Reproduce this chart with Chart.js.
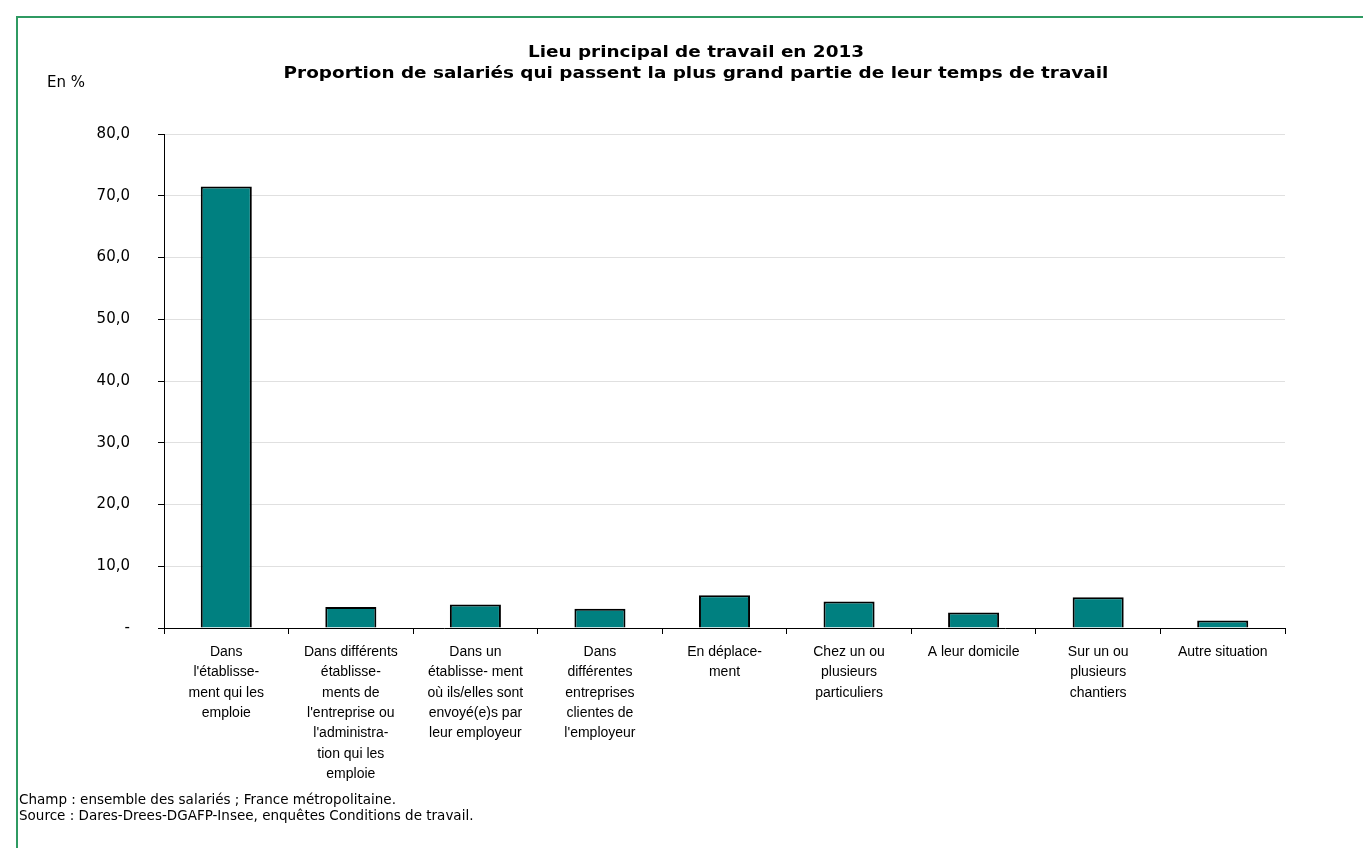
<!DOCTYPE html>
<html>
<head>
<meta charset="utf-8">
<script src="https://cdn.jsdelivr.net/npm/chart.js@4"></script>
<style>
  html, body { margin: 0; padding: 0; background: #fff; }
  #wrap { position: relative; width: 1363px; height: 848px; overflow: hidden; }
  #frame { position: absolute; left: 16px; top: 16px; right: -10px; bottom: -10px;
           border-top: 2px solid #2f9a62; border-left: 2px solid #2f9a62; }
  canvas { position: absolute; left: 0; top: 0; }
</style>
</head>
<body>
<div id="wrap">
  <div id="frame"></div>
  <canvas id="chart" width="1363" height="848"></canvas>
</div>
<script>
// ── Data ──
const categories = [
  ["Dans", "l'établisse-", "ment qui les", "emploie"],
  ["Dans différents", "établisse-", "ments de", "l'entreprise ou", "l'administra-", "tion qui les", "emploie"],
  ["Dans un", "établisse- ment", "où ils/elles sont", "envoyé(e)s par", "leur employeur"],
  ["Dans", "différentes", "entreprises", "clientes de", "l'employeur"],
  ["En déplace-", "ment"],
  ["Chez un ou", "plusieurs", "particuliers"],
  ["A leur domicile"],
  ["Sur un ou", "plusieurs", "chantiers"],
  ["Autre situation"],
];
const shares = [71.5, 3.4, 3.8, 3.1, 5.3, 4.3, 2.5, 5.0, 1.2];

const titleLines = [
  'Lieu principal de travail en 2013',
  'Proportion de salariés qui passent la plus grand partie de leur temps de travail',
];
const unitLabel = 'En %';
const notes = [
  'Champ : ensemble des salariés ; France métropolitaine.',
  'Source : Dares-Drees-DGAFP-Insee, enquêtes Conditions de travail.',
];

const FONT = "'DejaVu Sans', Verdana, sans-serif";
const LABEL_FONT = "'Liberation Sans', Tahoma, Arial, sans-serif";

// ── Texts around the plot (title, unit, notes) ──
const annotations = {
  id: 'annotations',
  afterDraw(chart) {
    const ctx = chart.ctx;
    ctx.save();
    ctx.fillStyle = '#000';
    ctx.textBaseline = 'middle';
    ctx.textAlign = 'center';
    // title is a bit wider than the font gives, stretch it horizontally
    ctx.save();
    ctx.translate(696, 0);
    ctx.scale(1.15, 1);
    ctx.font = `bold 16px ${FONT}`;
    ctx.fillText(titleLines[0], 0, 53);
    ctx.fillText(titleLines[1], 0, 74);
    ctx.restore();
    ctx.textAlign = 'left';
    ctx.font = `15px ${FONT}`;
    ctx.fillText(unitLabel, 47, 83);
    ctx.font = `13.5px ${FONT}`;
    ctx.fillText(notes[0], 19, 800);
    ctx.fillText(notes[1], 19, 816);
    ctx.restore();
  }
};

Chart.defaults.font.family = FONT;
Chart.defaults.color = '#000';

new Chart(document.getElementById('chart'), {
  type: 'bar',
  data: {
    labels: categories,
    datasets: [{
      data: shares,
      backgroundColor: '#008080',
      borderColor: '#000',
      borderWidth: 2,
      borderSkipped: 'bottom',
      barPercentage: 0.41,
      categoryPercentage: 1,
    }],
  },
  options: {
    responsive: false,
    animation: false,
    layout: { padding: { left: 64, top: 134, right: 78, bottom: 20 } },
    plugins: {
      legend: { display: false },
      tooltip: { enabled: false },
    },
    scales: {
      x: {
        grid: { offset: true, drawOnChartArea: false, drawTicks: true, tickLength: 6, tickColor: '#000' },
        border: { color: '#000', width: 1 },
        ticks: {
          font: { family: LABEL_FONT, size: 14, lineHeight: 1.45 },
          padding: 8,
          maxRotation: 0,
          autoSkip: false,
        },
        afterFit: s => { s.height = 200; },
      },
      y: {
        min: 0,
        max: 80,
        grid: { color: '#e0e0e0', tickColor: '#000', tickLength: 6 },
        border: { color: '#000', width: 1 },
        ticks: {
          stepSize: 10,
          font: { size: 15 },
          padding: 28,
          callback: v => v === 0 ? '-' : v.toFixed(1).replace('.', ','),
        },
        afterFit: s => { s.width = 100; },
      },
    },
  },
  plugins: [annotations],
});
</script>
</body>
</html>
